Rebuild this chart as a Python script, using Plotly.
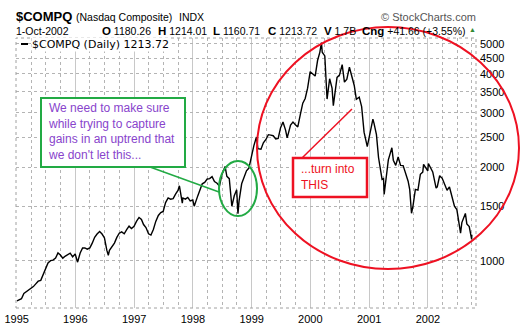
import plotly.graph_objects as go

dates = [
 "1995-01-03","1995-01-15","1995-01-31","1995-02-15","1995-02-28","1995-03-15","1995-03-31",
 "1995-04-15","1995-04-30","1995-05-15","1995-05-31","1995-06-15","1995-06-30","1995-07-15",
 "1995-07-31","1995-08-15","1995-08-31","1995-09-15","1995-09-30","1995-10-15","1995-10-31",
 "1995-11-15","1995-11-30","1995-12-15","1995-12-31",
 "1996-01-15","1996-01-31","1996-02-15","1996-02-29","1996-03-15","1996-03-31","1996-04-15",
 "1996-04-30","1996-05-15","1996-05-31","1996-06-15","1996-06-30","1996-07-15","1996-07-24",
 "1996-07-31","1996-08-15","1996-08-31","1996-09-15","1996-09-30","1996-10-15","1996-10-31",
 "1996-11-15","1996-11-30","1996-12-15","1996-12-31",
 "1997-01-15","1997-01-31","1997-02-15","1997-02-28","1997-03-15","1997-03-31","1997-04-15",
 "1997-04-30","1997-05-15","1997-05-31","1997-06-15","1997-06-30","1997-07-15","1997-07-31",
 "1997-08-15","1997-08-31","1997-09-15","1997-09-30","1997-10-09","1997-10-27","1997-10-31",
 "1997-11-15","1997-11-30","1997-12-15","1997-12-31",
 "1998-01-09","1998-01-31","1998-02-15","1998-02-28","1998-03-15","1998-03-31","1998-04-15",
 "1998-04-30","1998-05-15","1998-05-31","1998-06-15","1998-06-30","1998-07-20","1998-07-31",
 "1998-08-15","1998-08-31","1998-09-15","1998-09-30","1998-10-08","1998-10-15","1998-10-31",
 "1998-11-15","1998-11-30","1998-12-15","1998-12-31",
 "1999-01-15","1999-01-31","1999-02-09","1999-02-28","1999-03-15","1999-03-31","1999-04-15",
 "1999-04-30","1999-05-15","1999-05-31","1999-06-15","1999-06-30","1999-07-15","1999-07-31",
 "1999-08-10","1999-08-31","1999-09-15","1999-09-30","1999-10-15","1999-10-31","1999-11-15",
 "1999-11-30","1999-12-15","1999-12-31",
 "2000-01-15","2000-01-31","2000-02-15","2000-02-29","2000-03-10","2000-03-15","2000-03-31",
 "2000-04-14","2000-04-30","2000-05-15","2000-05-23","2000-05-31","2000-06-15","2000-06-30",
 "2000-07-17","2000-07-31","2000-08-15","2000-08-31","2000-09-15","2000-09-30","2000-10-13",
 "2000-10-31","2000-11-15","2000-11-30","2000-12-20","2000-12-31",
 "2001-01-24","2001-01-31","2001-02-15","2001-02-28","2001-03-22","2001-03-31","2001-04-04",
 "2001-04-30","2001-05-22","2001-05-31","2001-06-15","2001-06-30","2001-07-15","2001-07-31",
 "2001-08-15","2001-08-31","2001-09-10","2001-09-21","2001-09-30","2001-10-15","2001-10-31",
 "2001-11-15","2001-11-30","2001-12-05","2001-12-31",
 "2002-01-04","2002-01-31","2002-02-21","2002-02-28","2002-03-15","2002-03-31","2002-04-15",
 "2002-04-30","2002-05-15","2002-05-31","2002-06-15","2002-06-30","2002-07-10","2002-07-23",
 "2002-07-31","2002-08-22","2002-08-31","2002-09-15","2002-09-30","2002-10-01",
]
closes = [
 743,750,755,785,793,805,817,
 826,843,860,865,905,933,985,
 1001,1005,1020,1060,1044,1020,1036,
 1050,1059,1030,1052,
 990,1060,1100,1100,1090,1101,1140,
 1191,1220,1243,1220,1185,1080,1042,
 1081,1110,1141,1190,1227,1240,1222,
 1260,1293,1270,1291,
 1340,1380,1360,1309,1280,1222,1210,
 1261,1340,1400,1430,1442,1540,1594,
 1580,1587,1640,1686,1745,1535,1594,
 1580,1601,1560,1570,
 1500,1619,1710,1771,1790,1835,1840,
 1868,1800,1779,1740,1895,2014,1872,
 1840,1499,1620,1694,1419,1560,1771,
 1850,1950,1990,2193,
 2350,2506,2300,2288,2400,2461,2550,
 2542,2530,2471,2480,2686,2800,2638,
 2490,2739,2800,2746,2700,2966,3220,
 3336,3600,4069,
 4000,3940,4420,4697,5048,4700,4573,
 3321,3861,3600,3164,3401,3900,3966,
 4290,3767,3850,4206,3900,3673,3316,
 3370,3140,2598,2332,2471,
 2860,2773,2550,2152,1830,1840,1638,
 2116,2313,2110,2030,2161,2030,2027,
 1920,1805,1695,1423,1499,1700,1690,
 1900,1931,2046,1950,
 2059,1934,1716,1731,1880,1845,1760,
 1688,1730,1616,1500,1463,1346,1229,
 1328,1422,1315,1290,1172,1213.72,
]
y_ticks = [1000, 1500, 2000, 2500, 3000, 3500, 4000, 4500, 5000]
y_tick_labels = [str(v) for v in y_ticks]
year_ticks = ["1995-01-01","1996-01-01","1997-01-01","1998-01-01","1999-01-01",
              "2000-01-01","2001-01-01","2002-01-01"]
year_labels = ["1995","1996","1997","1998","1999","2000","2001","2002"]
quote_keys = ["O", "H", "L", "C", "V", "Cng"]
quote_vals = ["1180.26", "1214.01", "1160.71", "1213.72", "1.7B", "+41.66 (+3.55%)"]

W, H = 523, 328
L, R, T, B = 16, 476, 38, 308

def px(x):
    return (x - L) / (R - L)

def py(y):
    return (B - y) / (B - T)

fig = go.Figure()
fig.add_trace(go.Scatter(x=dates, y=closes, mode="lines",
                         line=dict(color="black", width=1.4), hoverinfo="skip"))

FONT = "Liberation Sans, Arial, sans-serif"
GRID = "#b4b4b4"
fig.update_layout(
    width=W, height=H, margin=dict(l=L, r=W - R, t=T, b=H - B, autoexpand=False),
    paper_bgcolor="white", plot_bgcolor="white", showlegend=False,
    font=dict(family=FONT, size=11, color="black"),
    xaxis=dict(range=["1994-12-28", "2002-10-27"], tickvals=year_ticks, ticktext=year_labels,
               showgrid=True, gridcolor="#c8c8c8", gridwidth=1, ticks="", zeroline=False,
               showline=False, ticklabelstandoff=3, automargin=False,
               minor=dict(dtick="M3", tick0="1995-01-01", showgrid=True, gridcolor=GRID,
                          griddash="dot", gridwidth=1),
               tickfont=dict(size=11, family=FONT)),
    yaxis=dict(type="log", range=[2.848, 3.718], side="right", tickvals=y_ticks,
               ticktext=y_tick_labels, showgrid=True, gridcolor=GRID, griddash="dot",
               ticks="", zeroline=False, showline=False, ticklabelstandoff=3, automargin=False,
               tickfont=dict(size=11, family=FONT)),
)

shapes = []
# plot border
shapes.append(dict(type="rect", xref="paper", yref="paper", x0=0, x1=1, y0=0, y1=1,
                   line=dict(color="#a0a0a0", width=1, dash="dot"), layer="above"))
# legend dash
shapes.append(dict(type="line", xref="paper", yref="paper", x0=px(21), x1=px(28), y0=py(44), y1=py(44),
                   line=dict(color="black", width=2)))
RED = "#ee1122"
GREEN = "#22aa44"
# red ellipse
shapes.append(dict(type="circle", xref="paper", yref="paper", x0=px(257), x1=px(519),
                   y0=py(269), y1=py(27), line=dict(color=RED, width=2)))
# red connector line
shapes.append(dict(type="line", xref="paper", yref="paper", x0=px(302), y0=py(158),
                   x1=px(352), y1=py(109), line=dict(color=RED, width=1.5)))
# red box
shapes.append(dict(type="rect", xref="paper", yref="paper", x0=px(293), x1=px(367),
                   y0=py(197), y1=py(158), line=dict(color=RED, width=2.5), fillcolor="white"))
# green ellipse
shapes.append(dict(type="circle", xref="paper", yref="paper", x0=px(219), x1=px(257),
                   y0=py(216), y1=py(161), line=dict(color=GREEN, width=2)))
# green connector line
shapes.append(dict(type="line", xref="paper", yref="paper", x0=px(150), y0=py(167),
                   x1=px(219), y1=py(192), line=dict(color=GREEN, width=1.5)))
# green box
shapes.append(dict(type="rect", xref="paper", yref="paper", x0=px(41), x1=px(185),
                   y0=py(167), y1=py(98), line=dict(color=GREEN, width=2), fillcolor="white"))
fig.update_layout(shapes=shapes)

def note(text, x, y, size=11, color="black", xanchor="left", yanchor="middle",
         family=FONT, align="left", bgcolor=None):
    a = dict(text=text, x=px(x), y=py(y), xref="paper", yref="paper", showarrow=False,
             xanchor=xanchor, yanchor=yanchor, align=align, borderpad=0,
             font=dict(size=size, color=color, family=family))
    if bgcolor:
        a["bgcolor"] = bgcolor
    fig.add_annotation(**a)

note("<b>$COMPQ</b>", 15, 16, size=13)
note("(Nasdaq Composite)", 75, 17, size=10.5)
note("INDX", 178, 17, size=10.5)
note("© StockCharts.com", 477, 17, size=11, color="#555555", xanchor="right")
note("1-Oct-2002", 15, 31, size=10.5)
quote_x = [101, 157, 212, 267, 323, 361]
for k, v, xx in zip(quote_keys, quote_vals, quote_x):
    note(f"<b><span style='font-size:11.5px'>{k}</span></b> {v}", xx, 31, size=10.5)
note("▲", 468, 30, size=7, color="#338833")
note("$COMPQ (Daily) 1213.72", 31, 44, size=11, family="DejaVu Sans, sans-serif",
     bgcolor="white")
note("We need to make sure<br>while trying to capture<br>gains in an uptrend that<br>we don't let this...",
     47, 131, size=12, color="#8844cc")
note("...turn into<br>THIS", 300, 177, size=12, color=RED)

fig.write_html("out.html")
